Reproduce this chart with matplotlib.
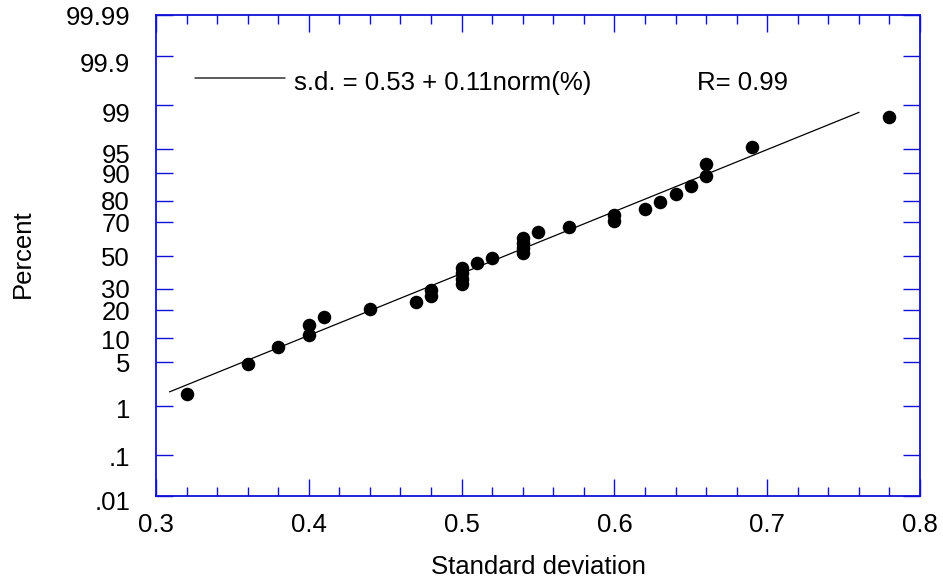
"""
Normal probability plot of standard deviations
"""
from statistics import NormalDist
import matplotlib
matplotlib.use('Agg')
import matplotlib.pyplot as plt
import numpy as np

plt.rcParams['font.family'] = ['Liberation Sans', 'DejaVu Sans']

# Data
sd = [0.32, 0.36, 0.38, 0.40, 0.40, 0.41, 0.44, 0.47, 0.48, 0.48,
      0.50, 0.50, 0.50, 0.50, 0.51, 0.52, 0.54, 0.54, 0.54, 0.54,
      0.55, 0.57, 0.60, 0.60, 0.62, 0.63, 0.64, 0.65, 0.66, 0.66,
      0.69, 0.78]
pct = [1.6, 4.7, 7.8, 10.9, 14.1, 17.2, 20.3, 23.4, 26.6, 29.7,
       32.8, 35.9, 39.1, 42.2, 45.3, 48.4, 51.6, 54.7, 57.8, 60.9,
       64.1, 67.2, 70.3, 73.4, 76.6, 79.7, 82.8, 85.9, 89.1, 92.2,
       95.3, 98.4]
# fitted line: s.d. = a + b*norm
fit_a = 0.529
fit_b = 0.1044
fit_x = [0.309, 0.760]
tick_pct = [0.01, 0.1, 1, 5, 10, 20, 30, 50, 70, 80, 90, 95, 99, 99.9, 99.99]
tick_txt = ['.01', '.1', '1', '5', '10', '20', '30', '50', '70', '80',
            '90', '95', '99', '99.9', '99.99']
# label shift (px, downward) as drawn in the original
tick_shift = [4, 1, 3, 1, 1, 0.5, -0.5, 1, 0.5, -0.5, 0.5, 4.5, 7, 7, 0]

nd = NormalDist()
def probit(p):
    return np.array([nd.inv_cdf(v / 100.0) for v in p])

blue = '#1010d8'
fs = 18.5

fig = plt.figure(figsize=(9.43, 5.81), dpi=100)
ax = fig.add_axes([156 / 943, 85 / 581, 764 / 943, 481 / 581])

ax.scatter(sd, probit(pct), s=95, c='k', zorder=3, linewidths=0)
fx = np.array(fit_x)
ax.plot(fx, (fx - fit_a) / fit_b, color='k', lw=0.9)

zmax = -nd.inv_cdf(0.0001)
ax.set_xlim(0.3, 0.8)
ax.set_ylim(-zmax, zmax)

for s in ax.spines.values():
    s.set_color(blue)
    s.set_linewidth(1.3)

ax.set_xticks(np.arange(0.3, 0.81, 0.1))
ax.set_xticklabels(['0.3', '0.4', '0.5', '0.6', '0.7', '0.8'])
ax.set_xticks(np.arange(0.3, 0.801, 0.02), minor=True)
ax.tick_params(axis='x', which='major', direction='in', length=12, width=1,
               color=blue, top=True, labelsize=fs, pad=12)
ax.tick_params(axis='x', which='minor', direction='in', length=6.5, width=1,
               color=blue, top=True)

zt = probit(tick_pct)
ax.set_yticks(zt)
ax.set_yticklabels([])
ax.tick_params(axis='y', direction='in', length=12, width=1, color=blue,
               right=True)
for z, t, d in zip(zt, tick_txt, tick_shift):
    ax.annotate(t, xy=(0, z), xycoords=('axes fraction', 'data'),
                xytext=(-18.7, -(d + 9.5) * 0.72), textcoords='offset points',
                ha='right', va='baseline', fontsize=fs, annotation_clip=False)

ax.set_xlabel('Standard deviation', fontsize=fs, labelpad=13)
fig.text(23 / 943, 1 - 254 / 581, 'Percent', rotation=90, fontsize=fs,
         ha='center', va='center')

# legend-like annotation
ax.annotate('', xy=(285 / 943, 1 - 78 / 581), xytext=(195 / 943, 1 - 78 / 581),
            xycoords='figure fraction',
            arrowprops=dict(arrowstyle='-', color='k', lw=0.9,
                            shrinkA=0, shrinkB=0))
fig.text(294 / 943, 1 - 83 / 581, 's.d. = 0.53 + 0.11norm(%)', fontsize=fs,
         ha='left', va='center')
fig.text(697 / 943, 1 - 83 / 581, 'R= 0.99', fontsize=fs,
         ha='left', va='center')

fig.savefig('out.png', dpi=100, facecolor='white')
